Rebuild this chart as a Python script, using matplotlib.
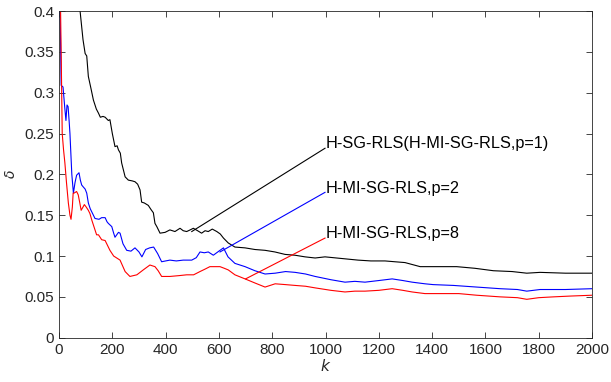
import numpy as np
import matplotlib.pyplot as plt

plt.rcParams['font.family'] = ['Liberation Sans', 'DejaVu Sans']

# H-SG-RLS (H-MI-SG-RLS, p=1)
k_black = [20, 50, 79, 90, 98, 104, 110, 120, 129, 140, 148, 155, 165, 173, 185, 191,
           200, 210, 218, 223, 230, 235, 248, 260, 275, 285, 295, 304, 310, 320, 335,
           345, 354, 360, 367, 379, 398, 416, 435, 454, 466, 479, 492, 504, 520, 535,
           548, 560, 575, 592, 605, 617, 635, 660, 698, 735, 773, 810, 848, 885, 923,
           961, 998, 1060, 1122, 1170, 1223, 1260, 1298, 1355, 1420, 1492, 1560, 1630,
           1700, 1755, 1805, 1900, 2000]
d_black = [0.75, 0.5, 0.40, 0.365, 0.348, 0.345, 0.32, 0.305, 0.291, 0.28, 0.275, 0.27,
           0.271, 0.27, 0.266, 0.267, 0.25, 0.234, 0.235, 0.230, 0.226, 0.214, 0.197,
           0.193, 0.192, 0.191, 0.188, 0.181, 0.166, 0.165, 0.162, 0.157, 0.153, 0.140,
           0.136, 0.128, 0.129, 0.132, 0.130, 0.134, 0.131, 0.130, 0.132, 0.134, 0.131,
           0.128, 0.131, 0.130, 0.133, 0.130, 0.127, 0.122, 0.116, 0.111, 0.110, 0.108,
           0.107, 0.105, 0.102, 0.101, 0.099, 0.0976, 0.099, 0.097, 0.095, 0.094,
           0.094, 0.093, 0.092, 0.087, 0.087, 0.087, 0.085, 0.082, 0.081, 0.079,
           0.080, 0.079, 0.079]

# H-MI-SG-RLS, p=2
k_blue = [0, 5, 8, 15, 22, 26, 30, 34, 38, 41, 48, 54, 60, 66, 75, 80, 85, 90, 98, 104,
          110, 117, 123, 135, 150, 160, 173, 180, 185, 198, 205, 210, 223, 229, 240,
          254, 270, 285, 300, 311, 325, 340, 355, 370, 385, 400, 416, 440, 466, 498,
          515, 529, 545, 560, 579, 604, 617, 634, 660, 698, 735, 773, 811, 850, 886,
          925, 961, 1020, 1073, 1110, 1148, 1200, 1250, 1290, 1325, 1373, 1404, 1480,
          1567, 1655, 1720, 1755, 1805, 1900, 2000]
d_blue = [0.45, 0.38, 0.309, 0.307, 0.28, 0.266, 0.285, 0.283, 0.265, 0.250, 0.2, 0.177,
          0.19, 0.199, 0.202, 0.193, 0.187, 0.185, 0.182, 0.177, 0.165, 0.158, 0.154,
          0.146, 0.145, 0.147, 0.147, 0.142, 0.140, 0.136, 0.128, 0.123, 0.129, 0.128,
          0.115, 0.107, 0.106, 0.110, 0.105, 0.099, 0.108, 0.110, 0.111, 0.103, 0.093,
          0.094, 0.095, 0.094, 0.095, 0.095, 0.098, 0.105, 0.104, 0.105, 0.101, 0.107,
          0.110, 0.099, 0.091, 0.087, 0.082, 0.078, 0.079, 0.081, 0.080, 0.078, 0.075,
          0.071, 0.068, 0.069, 0.068, 0.070, 0.072, 0.070, 0.068, 0.066, 0.065, 0.064,
          0.062, 0.060, 0.059, 0.057, 0.059, 0.059, 0.060]

# H-MI-SG-RLS, p=8
k_red = [0, 5, 8, 10, 12, 17, 22, 28, 35, 41, 45, 50, 53, 56, 66, 72, 78, 83, 90, 95,
         102, 110, 116, 123, 135, 141, 148, 160, 173, 182, 191, 205, 229, 248, 266, 292,
         316, 341, 360, 372, 385, 416, 450, 479, 505, 529, 548, 566, 604, 620, 635, 660,
         698, 735, 773, 811, 850, 886, 925, 961, 1020, 1073, 1110, 1148, 1200, 1250,
         1290, 1325, 1373, 1442, 1500, 1567, 1655, 1720, 1755, 1800, 1855, 1920, 2000]
d_red = [0.6, 0.42, 0.35, 0.30, 0.25, 0.23, 0.214, 0.19, 0.165, 0.15, 0.145, 0.16, 0.177,
         0.177, 0.179, 0.175, 0.165, 0.156, 0.16, 0.163, 0.16, 0.156, 0.152, 0.144,
         0.132, 0.126, 0.126, 0.12, 0.119, 0.113, 0.107, 0.1, 0.095, 0.081, 0.075,
         0.077, 0.083, 0.089, 0.087, 0.082, 0.075, 0.075, 0.076, 0.077, 0.077, 0.081,
         0.084, 0.087, 0.087, 0.085, 0.083, 0.077, 0.072, 0.067, 0.062, 0.066, 0.065,
         0.064, 0.063, 0.061, 0.058, 0.056, 0.057, 0.057, 0.058, 0.060, 0.058, 0.056,
         0.054, 0.054, 0.054, 0.052, 0.050, 0.049, 0.047, 0.049, 0.050, 0.051, 0.052]

labels = ['H-SG-RLS(H-MI-SG-RLS,p=1)', 'H-MI-SG-RLS,p=2', 'H-MI-SG-RLS,p=8']
colors = ['black', 'blue', 'red']
text_x = 1002
text_y = [0.238, 0.183, 0.128]
line_end_y = [0.232, 0.178, 0.122]
point_k = [498, 604, 700]
point_d = [0.130, 0.105, 0.072]

fig = plt.figure(figsize=(6.11, 3.82), dpi=100)
ax = fig.add_axes([0.0966, 0.116, 0.8724, 0.855])

ax.plot(k_black, d_black, color='black', lw=0.8)
ax.plot(k_blue, d_blue, color='blue', lw=0.8)
ax.plot(k_red, d_red, color='red', lw=0.8)

for lab, c, ty, ly, pk, pd in zip(labels, colors, text_y, line_end_y, point_k, point_d):
    ax.plot([pk, text_x - 4], [pd, ly], color=c, lw=0.8)
    ax.text(text_x, ty, lab, fontsize=11.7, va='center', ha='left')

ax.set_xlim(0, 2000)
ax.set_ylim(0, 0.4)
ax.set_xticks(np.arange(0, 2001, 200))
yt = np.arange(0, 0.401, 0.05)
ax.set_yticks(yt)
ax.set_yticklabels(['%g' % round(v, 2) for v in yt])
ax.tick_params(direction='in', top=True, right=True, length=4, width=0.6,
               labelsize=11, colors='#262626')
for s in ax.spines.values():
    s.set_color('#262626')
    s.set_linewidth(0.6)

ax.set_xlabel('$k$', fontsize=11, color='#262626', labelpad=1)
ax.set_ylabel(r'$\delta$', fontsize=10, color='#262626', labelpad=5)

fig.savefig('out.png', dpi=100)
